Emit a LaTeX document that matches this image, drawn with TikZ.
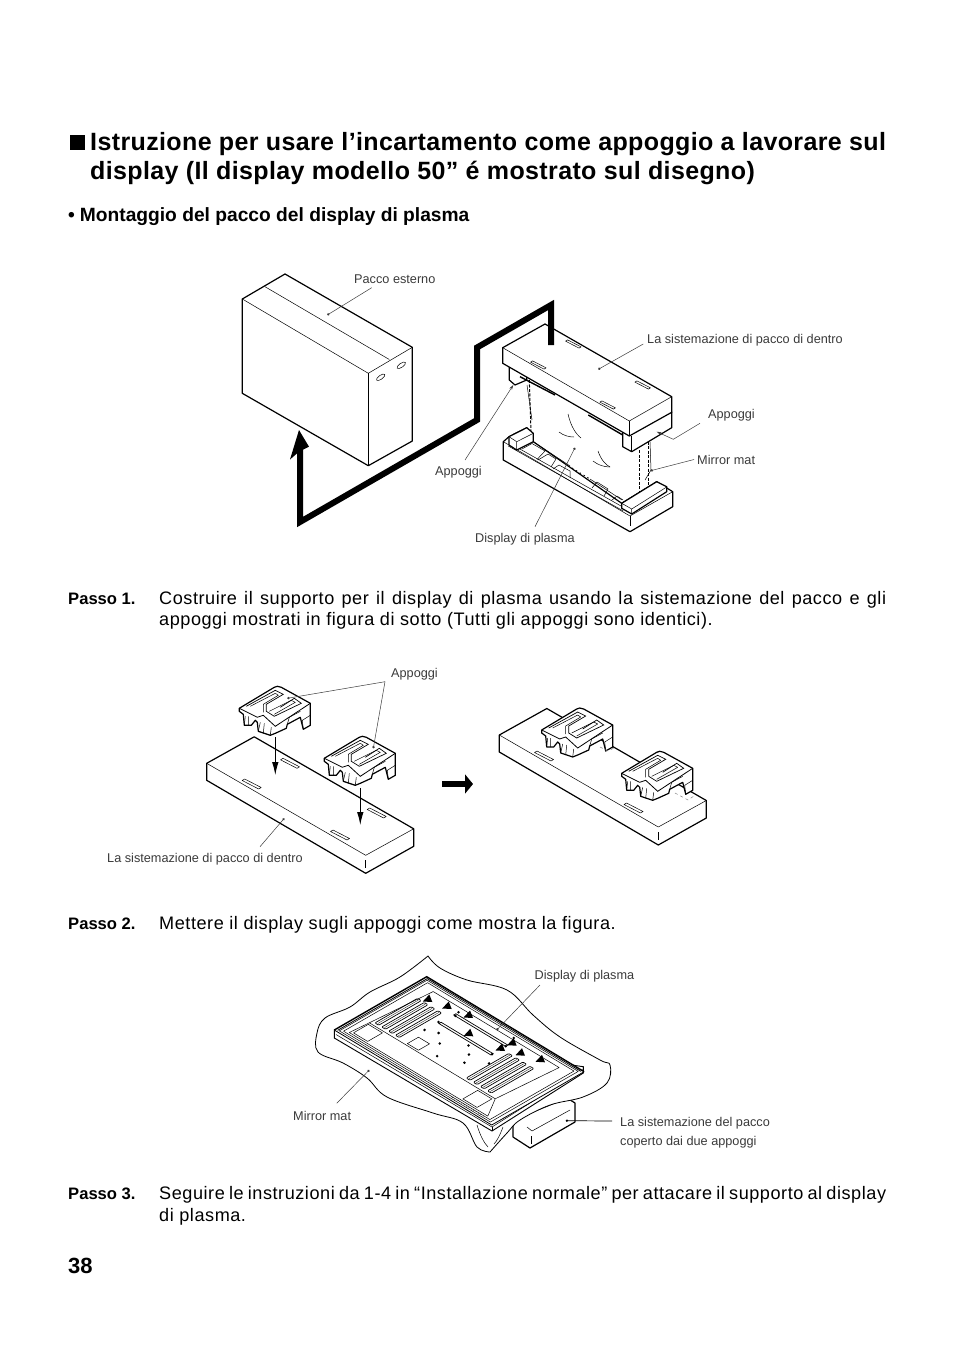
\documentclass[tikz,border=0pt]{standalone}
\usepackage{fontspec}
\setmainfont{Liberation Sans}
\newfontfamily\bodyfont[LetterSpace=3]{Liberation Sans}
\newfontfamily\headfont[LetterSpace=1.5]{Liberation Sans}
\usepackage{xcolor}
\usetikzlibrary{arrows.meta,calc}
\definecolor{labelgray}{HTML}{3A3A3A}
\tikzset{
  outline/.style={line width=1.2pt,line join=round},
  thinline/.style={line width=0.5pt,line join=round},
  leader/.style={line width=0.5pt,labelgray},
  dotted leader/.style={leader,-{Circle[length=2.4pt]}},
  tipped leader/.style={leader,-{Stealth[length=5pt,width=3pt]}},
  packdash/.style={line width=1pt,dash pattern=on 3pt off 1.5pt},
  lbl/.style={font=\fontsize{12.7}{14}\selectfont,text=labelgray,inner sep=0pt,anchor=base west},
  bodytxt/.style={font=\bodyfont\fontsize{18.1}{20}\selectfont,inner sep=0pt,anchor=base west},
  passo/.style={font=\bfseries\fontsize{16.6}{20}\selectfont,inner sep=0pt,anchor=base west},
  headtxt/.style={font=\headfont\bfseries\fontsize{25}{28}\selectfont,inner sep=0pt,anchor=base west},
  slot/.pic={\draw[thinline,fill=white] (-9.5,-3.5)--(-7,-5)--(9.5,3.5)--(7,5)--cycle;},
  tiptri/.pic={\fill (2,-4.5)--(5,3)--(-4.5,2.5)--cycle;},
  appoggio/.pic={
    \draw[outline,fill=white] (0,0)--(35,-21)--(38,-22)--(42,-21)--(71,-5)--(71,17)--(64,21)--(61,9)--(48,16)--(47,20)--(36,25)--(31,27)--(19,23)--(18,14)--(16,12)--(12,17)--(5,17)--(4,6)--(0,3)--cycle;
    \draw[line width=0.8pt] (0,0)--(18,9)--(24,7)--(36,18)--(71,-5);
    \draw[line width=0.7pt] (7,-2)--(36,-18)--(44,-14)--(27,-4)--(27,3)--(35,8)--(62,-5)--(55,-10)--(41,-1);
    \draw[thinline] (11,-2)--(36,-15)--(39,-13)--(24,-4)--(24,4);
    \draw[thinline] (30,3)--(52,-8)--(56,-6)--(35,6);
    \draw[thinline] (48,16)--(50,9)--(61,3)(64,21)--(63,12)--(71,7);
    \draw[thinline] (5,17)--(6,8)(9,17)--(9,8)(19,23)--(21,14)(24,25)--(25,15)(31,27)--(32,19);
  },
  board/.pic={
    \draw[outline,fill=white] (0,0)--(47.5,-26.5)--(207,65.5)--(207,83)--(159,110)--(0,17)--cycle;
    \draw[thinline] (0,0)--(159,92)--(207,65.5);
    \draw[thinline] (159,97)--(159,105);
  },
}
\begin{document}
\begin{tikzpicture}[x=1pt,y=-1pt]
  \useasboundingbox (0,0) rectangle (954,1351);
  % heading
  \node[fill=black,minimum width=15pt,minimum height=15pt,inner sep=0pt,anchor=north west] (headbox) at (70,135) {};
  \node[headtxt] (head1) at (90,151) {Istruzione per usare l’incartamento come appoggio a lavorare sul};
  \node[headtxt] (head2) at (90,179) {display (Il display modello 50” é mostrato sul disegno)};
  \node[font=\bfseries\fontsize{19.2}{20}\selectfont,inner sep=0pt,anchor=base west] (subhead) at (68,222) {•\hspace{5pt}Montaggio del pacco del display di plasma};

  % outer carton
  \draw[outline,fill=white] (285,274)--(242.3,299)--(242.3,393.3)--(368.3,465.7)--(412.3,441)--(412.3,347.3)--cycle;
  \draw[thinline] (242.3,299)--(368.3,373.3)--(412.3,347.3);
  \draw[thinline] (368.3,373.3)--(368.3,465.7);
  \draw[thinline] (265,286.7)--(389.3,359.5);
  \draw[thinline] (380.7,377.3) ellipse [x radius=5pt,y radius=2pt,rotate=35];
  \draw[thinline] (401.3,365.3) ellipse [x radius=5pt,y radius=2pt,rotate=35];

  % lower tray
  \draw[outline,fill=white] (503.3,441.7)--(503.3,460)--(630,531.7)--(672.7,506.7)--(672.7,491.7)--(656.7,481.7)--(621.7,503.3)--(533.3,441.7)--(526.7,427.7)--(509,436.7)--cycle;
  \draw[thinline] (503.3,441.7)--(630,516)--(672.7,491.7);
  \draw[thinline] (630,516)--(630,526);
  \draw[thinline] (508.3,446)--(623.3,511);
  \draw[thinline] (511,444)--(621,506);
  \draw[thinline] (522,449)--(532,443.5)--(545,451)--(537,459.5);
  \draw[thinline] (538,460)--(548,454)--(556,459)--(551,467);
  \draw[thinline] (553,469)--(559,465)--(570,471)--(570,478);
  \draw[thinline] (592,488)--(597,482)--(608,489)--(604,496);
  \draw[thinline] (612,500)--(617,496)--(623,500);
  % display sheet
  \draw[thinline] (533.3,441.7)--(570,466);
  \draw[line width=0.8pt,dash pattern=on 1.5pt off 3pt] (572,468)--(590,479);
  \draw[thinline] (590,479)--(622,500);
  \draw[thinline] (568,414)..controls (571,427) and (576,434)..(581,438);
  \draw[thinline] (559,432)..controls (564,436) and (570,437)..(574,437);
  \draw[thinline] (598,451)..controls (601,460) and (606,465)..(610,467);
  \draw[thinline] (593,461)..controls (598,465) and (604,467)..(610,467);
  \draw[thinline] (527,385)--(532,420);
  \draw[thinline] (650,442)--(651,470)--(645,480);
  \draw[packdash] (529.3,380)--(531,431.7);
  \draw[packdash] (639.3,450)--(639.3,495);
  \draw[packdash] (648.3,441.7)--(648.3,490);
  % tray corner blocks
  \draw[outline,fill=white] (509,436.7)--(526.7,427.7)--(533.3,433.3)--(533.3,441.7)--(516.7,450)--(509,445)--cycle;
  \draw[thinline] (509,436.7)--(516.7,441.7)--(533.3,433.3)(516.7,441.7)--(516.7,450);
  \draw[outline,fill=white] (621.7,503.3)--(656.7,481.7)--(666.7,486.7)--(666.7,491.7)--(631.7,514)--(621.7,508.3)--cycle;
  \draw[thinline] (621.7,503.3)--(631.7,509)--(666.7,487)(631.7,509)--(631.7,514);

  % upper package
  \draw[outline,fill=white] (509.3,365)--(509.3,380)--(515,385)--(526.7,380)--(526.7,370)--cycle;
  \draw[outline,fill=white] (622.7,432)--(622.7,446.7)--(631.7,451.7)--(671.7,427.7)--(671.7,412)--cycle;
  \draw[thinline] (631.7,436)--(631.7,451.7);
  \draw[outline,fill=white] (545,324)--(502.7,347.7)--(502.7,363.3)--(629.3,436)--(671.7,412.3)--(671.7,396.7)--cycle;
  \draw[thinline] (502.7,347.7)--(629.3,421)--(671.7,396.7);
  \draw[thinline] (629.3,421)--(629.3,436);
  \draw[line width=1.4pt] (520,376.7)--(555,395) (588.3,415)--(622.7,435);
  \foreach \px/\py in {538.3/365,573.3/344,607.7/405,642.7/385}
    \pic at (\px,\py) [scale=0.82] {slot};

  % big flow arrow
  \coordinate (flowa) at (551,345);
  \coordinate (flowb) at (551,305);
  \coordinate (flowc) at (477,347.5);
  \coordinate (flowd) at (477,420);
  \coordinate (flowe) at (300,522);
  \coordinate (flowf) at (300,450);
  \draw[line width=6pt,miter limit=10] (flowa)--(flowb)--(flowc)--(flowd)--(flowe)--(flowf);
  \fill (299,430)--(309,446.7)--(302.5,450)--(297.5,453)--(290,459.5)--cycle;

  % labels and leaders of the first figure
  \node[lbl] (pacco) at (354,283) {Pacco esterno};
  \node[lbl] (sist1) at (647,343) {La sistemazione di pacco di dentro};
  \node[lbl] (app1) at (708,418) {Appoggi};
  \node[lbl] (mirror1) at (697,464) {Mirror mat};
  \node[lbl] (app2) at (435,475) {Appoggi};
  \node[lbl] (plasma1) at (475,542) {Display di plasma};
  \coordinate (paccoend) at (371.7,287.7);
  \coordinate (paccodot) at (327.3,315);
  \coordinate (sistend) at (643.3,344);
  \coordinate (sistdot) at (598.3,369.3);
  \coordinate (append) at (700,423.3);
  \coordinate (appmid) at (673.3,439.3);
  \coordinate (apptip) at (656.7,431.7);
  \coordinate (mirrorend) at (694,459.5);
  \coordinate (mirrordot) at (650.7,470.7);
  \coordinate (appendb) at (465,460);
  \coordinate (apptipb) at (513.3,385);
  \coordinate (plasmaend) at (535,526.7);
  \coordinate (plasmadot) at (575,447.7);
  \draw[dotted leader] (paccoend)--(paccodot);
  \draw[dotted leader] (sistend)--(sistdot);
  \draw[tipped leader] (append)--(appmid)--(apptip);
  \draw[dotted leader] (mirrorend)--(mirrordot);
  \draw[tipped leader] (appendb)--(apptipb);
  \draw[dotted leader] (plasmaend)--(plasmadot);

  % steps
  \node[passo] (p1) at (68,604) {Passo 1.};
  \node[bodytxt] (p1a) at (159,604) {\makebox[727pt][s]{Costruire il supporto per il display di plasma usando la sistemazione del pacco e gli}};
  \node[bodytxt] (p1b) at (159,625) {appoggi mostrati in figura di sotto (Tutti gli appoggi sono identici).};
  \node[passo] (p2) at (68,929) {Passo 2.};
  \node[bodytxt] (p2a) at (159,929) {Mettere il display sugli appoggi come mostra la figura.};
  \node[passo] (p3) at (68,1199) {Passo 3.};
  \node[bodytxt] (p3a) at (159,1199) {\makebox[727pt][s]{Seguire le instruzioni da 1-4 in “Installazione normale” per attacare il supporto al display}};
  \node[bodytxt] (p3b) at (159,1221) {di plasma.};
  \node[font=\bfseries\fontsize{22}{24}\selectfont,inner sep=0pt,anchor=base west] (pageno) at (68,1273) {38};

  % second figure, left
  \pic at (206.7,763.3) {board};
  \foreach \px/\py in {251.7/784,290/763.3,340/835,376.7/813}
    \pic at (\px,\py) {slot};
  \pic at (239.3,708.3) {appoggio};
  \pic at (324.3,758.3) {appoggio};
  \coordinate (dropa) at (275.3,737);
  \coordinate (dropb) at (275.3,775);
  \coordinate (dropc) at (360.3,788);
  \coordinate (dropd) at (360.3,825);
  \draw[line width=0.9pt,-{Latex[length=13pt,width=6.5pt]}] (dropa)--(dropb);
  \draw[line width=0.9pt,-{Latex[length=13pt,width=6.5pt]}] (dropc)--(dropd);
  \node[lbl] (app3) at (391,677) {Appoggi};
  \node[lbl] (sist2) at (107,862) {La sistemazione di pacco di dentro};
  \coordinate (appdota) at (287.3,698.3);
  \coordinate (appdotb) at (373.3,748.3);
  \coordinate (sistend2) at (260,846.7);
  \coordinate (sistdotb) at (284.3,818.3);
  \coordinate (appjoin) at (385,681.7);
  \draw[dotted leader] (appjoin)--(appdota);
  \draw[dotted leader] (appjoin)--(appdotb);
  \draw[dotted leader] (sistend2)--(sistdotb);

  % fat step arrow
  \coordinate (stepa) at (442,784);
  \coordinate (stepb) at (473,784);
  \draw[line width=6pt,-{Triangle[length=8pt,width=19pt]}] (stepa)--(stepb);

  % second figure, right
  \pic at (499.3,735) {board};
  \pic at (544,756) {slot};
  \pic at (633.5,808) {slot};
  \pic at (541.7,730) {appoggio};
  \pic at (621.7,773.3) {appoggio};
  \draw[thinline,gray,dashed] (600,747)--(608,751)--(614,748);
  \draw[thinline,gray,dashed] (675,793)--(688,800)--(694,796);

  % support under the mat
  \draw[outline,fill=white] (513,1137)--(530,1148)--(575,1122)--(575,1103)--(567,1098)--(513,1120)--cycle;
  \draw[thinline] (527,1127)--(532,1131)--(570,1110);
  \draw[thinline] (531,1136)--(531,1144);

  % mirror mat
  \draw[line width=0.8pt,fill=white] plot[smooth,tension=0.6] coordinates {(428,956)(440,968)(467,980)(507,990)(533,1015)(560,1037)(600,1060)(610,1065)(607,1083)(583,1097)(550,1105)(520,1120)(507,1133)(490,1152)}
    -- plot[smooth,tension=0.6] coordinates {(490,1152)(477,1147)(463,1123)(433,1113)(387,1097)(367,1078)(343,1063)(318,1052)(317,1033)(325,1018)(350,1007)(370,992)(400,977)(428,956)} -- cycle;
  \draw[thinline] (477,1125)..controls (480,1135) and (484,1143)..(488,1147);
  \draw[thinline] (503,1127)..controls (500,1135) and (497,1141)..(494,1144);

  % plasma display rear
  \draw[line width=0.9pt,fill=white] (334.3,1030)--(334.3,1038)--(492,1131)--(583.3,1073)--(583.3,1066.7)--cycle;
  \draw[thinline] (336,1034.5)--(492,1127)--(583,1069.5);
  \draw[thinline] (492,1127)--(492,1131);
  \begin{scope}[shift={(334.3,1030)},x={(157.4pt,-95pt)},y={(92.4pt,53.3pt)}]
    \fill[white] (0,0)--(1,0)--(1,1)--(0,1)--cycle;
    \draw[line width=0.8pt] (0,0)--(1,0)--(1,1);
    \draw[line width=1.4pt] (0,0)--(0,1)--(1,1);
    \draw[line width=0.8pt] (0.012,0.015)--(0.012,0.985)--(0.988,0.985);
    \draw[thinline] (0.02,0.02)--(0.98,0.02)--(0.98,0.97)--(0.02,0.97)--cycle;
    \draw[thinline] (0.035,0.04)--(0.965,0.04)--(0.965,0.95)--(0.035,0.95)--cycle;
    \draw[thinline] (0.06,0.06)--(0.94,0.06)--(0.87,0.26)--(0.9,0.9)--(0.1,0.9)--(0.07,0.26)--cycle;
    \draw[thinline] (0.07,0.26)--(0.87,0.26);
    \draw[thinline] (0.075,0.08)--(0.165,0.08)--(0.165,0.24)--(0.075,0.24)--cycle;
    \draw[thinline] (0.77,0.08)--(0.86,0.08)--(0.86,0.24)--(0.77,0.24)--cycle;
    \draw[thinline] (0.3,0.28)--(0.37,0.28)--(0.37,0.4)--(0.3,0.4)--cycle;
    \foreach \u in {0.10,0.143,0.187,0.23,0.68,0.725,0.77,0.815}{
      \draw[line width=0.7pt,rounded corners=1pt] (\u-0.012,0.29)--(\u+0.012,0.29)--(\u+0.012,0.75)--(\u-0.012,0.75)--cycle;
      \draw[line width=0.3pt] (\u,0.3)--(\u,0.74);
    }
    \foreach \v in {0.65,0.81}{
      \draw[line width=0.7pt] (0.29,\v-0.012)--(0.62,\v-0.012)--(0.62,\v+0.012)--(0.29,\v+0.012)--cycle;
    }
    \foreach \u/\v in {0.34/0.55,0.46/0.33,0.5/0.6,0.58/0.42,0.55/0.52,0.66/0.55,0.28/0.5,0.4/0.46,0.62/0.85,0.29/0.85,0.35/0.88,0.6/0.92,0.28/0.65,0.3/0.8,0.62/0.65,0.62/0.8}
      \fill (\u,\v) circle [radius=1.4pt];
    \foreach \u in {0.73,0.745,...,0.93}
      \fill (\u,0.035) circle [radius=0.4pt];
  \end{scope}
  \foreach \px/\py in {427.3/999,446.7/1006,468/1015,468.3/1033.3,500/1048,511.7/1042.7,520/1052.7,540/1059.3}
    \pic at (\px,\py) {tiptri};

  % third figure labels
  \node[lbl] (plasma2) at (534.5,979) {Display di plasma};
  \node[lbl] (mirror2) at (293,1120) {Mirror mat};
  \node[lbl,align=left,anchor=north west,font=\fontsize{12.7}{19}\selectfont] (sist3) at (620,1117.5) {La sistemazione del pacco\\coperto dai due appoggi};
  \coordinate (plasmaendb) at (540,985);
  \coordinate (plasmadotb) at (496.7,1030);
  \coordinate (mirrorendb) at (336.7,1103.3);
  \coordinate (mirrordotb) at (369.3,1070);
  \coordinate (boxend) at (612,1121);
  \coordinate (boxdot) at (565.7,1120.7);
  \draw[dotted leader] (plasmaendb)--(plasmadotb);
  \draw[dotted leader] (mirrorendb)--(mirrordotb);
  \draw[line width=0.7pt,-{Circle[length=2.4pt]}] (boxend)--(boxdot);
\end{tikzpicture}
\end{document}
